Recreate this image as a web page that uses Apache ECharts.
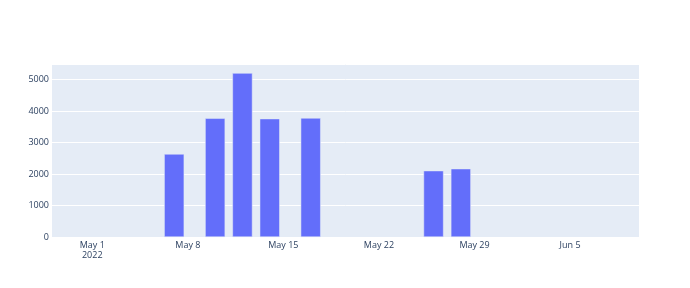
<!DOCTYPE html>
<html>
<head>
<meta charset="utf-8">
<script src="https://cdn.jsdelivr.net/npm/echarts@6/dist/echarts.min.js"></script>
<style>html,body{margin:0;padding:0;background:#fff}#c{width:690px;height:288px}</style>
</head>
<body>
<div id="c"></div>
<script>
const dates = ['2022-05-07','2022-05-10','2022-05-12','2022-05-14','2022-05-17','2022-05-26','2022-05-28'];
const values = [2635, 3768, 5203, 3756, 3778, 2105, 2168];
const tickDates = ['2022-05-01','2022-05-08','2022-05-15','2022-05-22','2022-05-29','2022-06-05'];
const yTicks = [0, 1000, 2000, 3000, 4000, 5000];

const DAY = 86400000;
const ts = s => { const p = s.split('-').map(Number); return Date.UTC(p[0], p[1]-1, p[2]); };
const months = ['Jan','Feb','Mar','Apr','May','Jun','Jul','Aug','Sep','Oct','Nov','Dec'];
const xMin = ts('2022-05-01') - 2.95 * DAY;
const xMax = xMin + 43 * DAY;
const tickTs = tickDates.map(ts);

const chart = echarts.init(document.getElementById('c'), null, {renderer: 'canvas'});
chart.setOption({
  animation: false,
  backgroundColor: '#ffffff',
  grid: {left: 52, right: 51, top: 64, bottom: 51, show: true, backgroundColor: '#E5ECF6', borderWidth: 0},
  xAxis: {
    type: 'value', min: xMin, max: xMax,
    axisLine: {show: false}, axisTick: {show: false}, splitLine: {show: false},
    axisLabel: {
      customValues: tickTs,
      color: '#2a3f5f', fontFamily: 'Open Sans', fontSize: 9, lineHeight: 10, margin: 3,
      hideOverlap: false, showMinLabel: true, showMaxLabel: true,
      formatter: v => {
        const d = new Date(v);
        const s = months[d.getUTCMonth()] + ' ' + d.getUTCDate();
        return v === tickTs[0] ? s + '\n' + d.getUTCFullYear() : s;
      }
    }
  },
  yAxis: {
    type: 'value', min: 0, max: 5492, interval: 1000,
    axisLine: {show: false}, axisTick: {show: false},
    splitLine: {show: true, lineStyle: {color: '#ffffff', width: 1}},
    axisLabel: {color: '#2a3f5f', fontFamily: 'Open Sans', fontSize: 9, margin: 3, showMaxLabel: false,
      formatter: v => yTicks.includes(v) ? String(v) : ''}
  },
  series: [{
    type: 'bar',
    data: dates.map((d, i) => [ts(d), values[i]]),
    barWidth: 20,
    itemStyle: {color: '#636EFA', borderColor: '#E5ECF6', borderWidth: 0.5}
  }]
});
</script>
</body>
</html>
